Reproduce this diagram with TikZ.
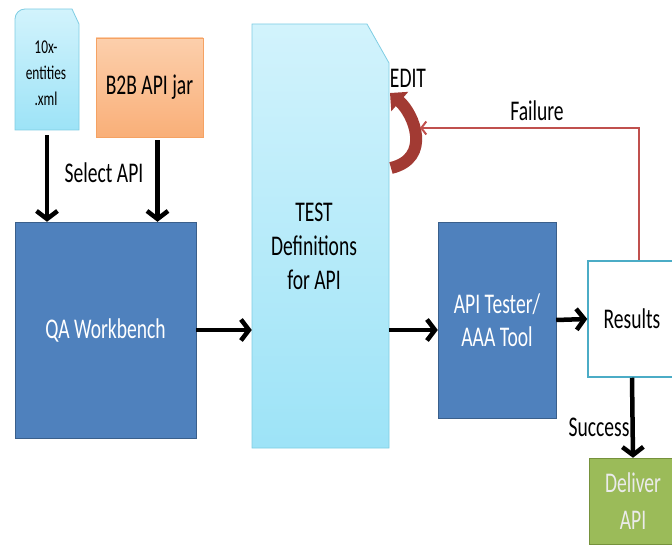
\documentclass[tikz,border=0pt]{standalone}
\usepackage{fontspec}
\setmainfont{Carlito}
\usepackage{graphicx}
\usetikzlibrary{arrows.meta}

\definecolor{boxblue}{HTML}{4F81BD}
\definecolor{boxblueline}{HTML}{3A5F8B}
\definecolor{cyantop}{HTML}{D2F3FC}
\definecolor{cyanbot}{HTML}{9DE3F7}
\definecolor{cyanline}{HTML}{7FCDE3}
\definecolor{jartop}{HTML}{FCCFAC}
\definecolor{jarbot}{HTML}{F9AF78}
\definecolor{jarline}{HTML}{F5A263}
\definecolor{resline}{HTML}{4BACC6}
\definecolor{okgreen}{HTML}{9BBB59}
\definecolor{okgreenline}{HTML}{76923C}
\definecolor{failred}{HTML}{C0504D}
\definecolor{editred}{HTML}{A23A33}

% text in the reference is drawn tall and narrow
\newcommand{\tl}[1]{\scalebox{1.03}[1.5]{#1}}

\begin{document}
\begin{tikzpicture}[x=1pt, y=-1pt,
    lbl/.style={font=\fontsize{19}{34}\selectfont, align=center, inner sep=0pt},
    bluebox/.style={draw=boxblueline, fill=boxblue, text=white, lbl},
    cyanfill/.style={top color=cyantop, bottom color=cyanbot, draw=cyanline, line width=0.8pt},
    arr/.style={line width=4.5pt, -{Straight Barb[length=8pt,width=21pt]}},
    failarr/.style={draw=failred, line width=2pt, -{Straight Barb[length=5pt,width=13pt]}},
    editarrow/.style={draw=editred, line width=12pt, -{Triangle[width=25pt,length=13pt]}}]
    \useasboundingbox (0,0) rectangle (672,545);

    % inputs
    \shade[cyanfill] (15,130) -- (15,19) arc[start angle=180, end angle=270, radius=10] -- (72,9) -- (79,24) -- (79,130) -- cycle;
    \node (xml) [minimum width=64pt, minimum height=121pt, inner sep=0pt] at (47,69.5) {};
    \node (xmltext) [lbl, font=\fontsize{13}{26}\selectfont] at (46,73) {\tl{10x-}\\\tl{entities}\\\tl{.xml}};
    \node (jar) [lbl, top color=jartop, bottom color=jarbot, draw=jarline, minimum width=107pt, minimum height=99pt] at (149.5,87.5) {\tl{B2B API jar}};
    \node (select) [lbl] at (104,173) {\tl{Select API}};

    \node (qa) [bluebox, minimum width=181pt, minimum height=216pt] at (105.5,330) {\tl{QA Workbench}};
    \draw[arr] ([yshift=-5pt]xml.south) -- (xml.south |- qa.north);
    \draw[arr] ([xshift=8pt,yshift=-3pt]jar.south) -- ([xshift=8pt]jar.south |- qa.north);

    % test definitions
    \shade[cyanfill] (252,448) -- (252,24) -- (367,24) -- (389,63) -- (389,448) -- cycle;
    \node (defs) [minimum width=137pt, minimum height=424pt, inner sep=0pt] at (320.5,236) {};
    \node (defstext) [lbl] at (314,246) {\tl{TEST}\\\tl{Definitions}\\\tl{for API}};
    \draw[arr] (qa.east) -- (qa.east -| defs.west);

    \node (tester) [bluebox, font=\fontsize{19}{33}\selectfont, minimum width=118pt, minimum height=196pt] at (497,320) {\tl{API Tester/}\\\tl{AAA Tool}};
    \draw[arr] (qa.east -| defs.east) -- (qa.east -| tester.west);

    \node (results) [lbl, draw=resline, line width=1.5pt, fill=white, minimum width=88pt, minimum height=116pt] at (632,319) {\tl{Results}};
    \draw[arr] (tester.east) -- (results.west);

    \node (deliver) [lbl, text=white!92!black, draw=okgreenline, fill=okgreen, font=\fontsize{19}{37}\selectfont, minimum width=88pt, minimum height=86pt] at (633,501) {\tl{Deliver}\\\tl{API}};
    \draw[arr] (results.south) -- (deliver.north);
    \node (success) [lbl] at (599,427) {\tl{Success}};

    % failure loop back to the definitions
    \coordinate (editin) at (420,128);
    \coordinate (loopstart) at (391,168);
    \coordinate (loopend) at (390,93);
    \draw[editarrow] (loopstart) .. controls (432,158) and (414,114) .. (loopend);
    \draw[failarr] ([xshift=7pt]results.north) |- (editin);
    \node (failure) [lbl] at (537,111) {\tl{Failure}};
    \node (edit) [lbl] at (408,78) {\tl{EDIT}};
\end{tikzpicture}
\end{document}
